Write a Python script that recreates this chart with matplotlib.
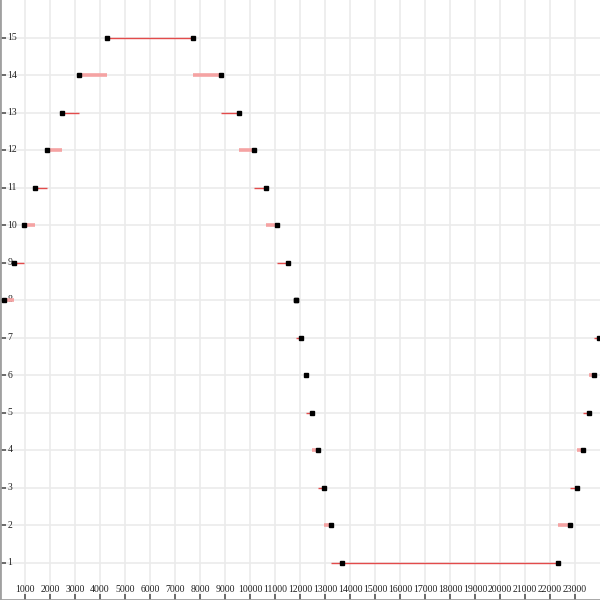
import matplotlib
matplotlib.use('Agg')
import matplotlib.pyplot as plt

# x values, one per level
left_levels = [15, 14, 13, 12, 11, 10, 9, 8]
left_x = [4280, 3160, 2480, 1880, 1400, 960, 560, 160]

top_right_levels = [15, 14, 13, 12, 11, 10, 9, 8]
top_right_x = [7720, 8840, 9560, 10160, 10640, 11080, 11520, 11840]

centre_levels = [8, 7, 6, 5, 4, 3, 2, 1]
centre_x = [11840, 12040, 12240, 12480, 12720, 12960, 13240, 13680]

right_levels = [1, 2, 3, 4, 5, 6, 7]
right_x = [22320, 22800, 23080, 23320, 23560, 23760, 23950]

# horizontal links: (level, from, to)
seg_level = [15, 14, 13, 12, 11, 10, 9, 8,
             14, 13, 12, 11, 10, 9,
             7, 5, 4, 3, 2, 1,
             2, 3, 4, 5, 6, 7]
seg_from = [4280, 4280, 3160, 2480, 1880, 1400, 960, 560,
            7720, 8840, 9560, 10160, 10640, 11080,
            11840, 12240, 12480, 12720, 12960, 13240,
            22320, 22800, 23080, 23320, 23560, 23760]
seg_to = [7720, 3160, 2480, 1880, 1400, 960, 560, 160,
          8840, 9560, 10160, 10640, 11080, 11520,
          12040, 12480, 12720, 12960, 13240, 22320,
          22800, 23080, 23320, 23560, 23760, 23950]

fig = plt.figure(figsize=(6, 6), dpi=100)
ax = fig.add_axes([0, 0, 1, 1])
ax.set_xlim(0, 24000)
ax.set_ylim(0, 16)

for lv, a, b in zip(seg_level, seg_from, seg_to):
    if lv % 2 == 1:
        ax.plot([a, b], [lv, lv], color='#e34b4b', lw=1.0, zorder=3, solid_capstyle='butt')
    else:
        ax.plot([a, b], [lv, lv], color='#f5a3a3', lw=2.6, zorder=3, solid_capstyle='butt')

for xs, ys in [(left_x, left_levels), (top_right_x, top_right_levels),
               (centre_x, centre_levels), (right_x, right_levels)]:
    ax.plot(xs, ys, 's', color='black', ms=2.6, ls='none', zorder=4)

ax.set_xticks(range(1000, 24000, 1000))
ax.set_yticks(range(1, 16))
ax.grid(True, color='#ebebeb', lw=1.2, zorder=0)
ax.set_axisbelow(True)

for s in ['top', 'right']:
    ax.spines[s].set_visible(False)
for s in ['left', 'bottom']:
    ax.spines[s].set_color('#a0a0a0')
    ax.spines[s].set_linewidth(2)

ax.tick_params(axis='both', direction='inout', length=9, width=1.2,
               color='#555555', labelsize=7, labelcolor='#222222')
ax.tick_params(axis='y', pad=-10)
ax.tick_params(axis='x', pad=-9)
for t in ax.get_yticklabels():
    t.set_ha('left')
    t.set_va('center')
    t.set_family('Liberation Serif')
for t in ax.get_xticklabels():
    t.set_va('bottom')
    t.set_family('Liberation Serif')

fig.savefig('out.png', dpi=100)
